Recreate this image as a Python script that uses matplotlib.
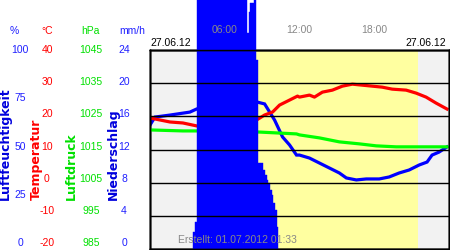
import numpy as np
import matplotlib
matplotlib.use('Agg')
import matplotlib.pyplot as plt
import matplotlib.transforms as mtransforms

plt.rcParams['font.family'] = ['Liberation Sans', 'DejaVu Sans']

# humidity (%), hours since midnight
hum_t = [0.0, 0.4, 1.6, 3.2, 3.76, 8.56, 9.2, 10.0, 10.64, 11.2, 11.76, 12.0, 12.8,
         13.6, 14.4, 15.2, 15.76, 16.56, 17.36, 18.4, 19.2, 20.0, 20.8, 21.6, 22.24,
         22.64, 23.2, 23.84]
hum_v = [62.3, 66.3, 67.3, 68.8, 70.4, 73.9, 72.9, 64.8, 56.3, 52.3, 47.2, 47.2, 45.7,
         43.2, 40.7, 38.2, 35.7, 34.7, 35.2, 35.2, 36.2, 38.2, 39.7, 42.2, 43.7,
         47.2, 48.7, 51.3]

# temperature (°C)
temp_t = [0.0, 0.8, 1.6, 2.64, 3.76, 8.56, 9.2, 9.84, 10.4, 11.2, 11.84, 12.0, 12.8,
          13.2, 13.84, 14.64, 15.44, 16.24, 17.04, 17.84, 18.64, 19.44, 20.56, 21.36,
          22.16, 22.96, 23.84]
temp_v = [19.5, 18.9, 18.3, 18.0, 17.1, 18.9, 20.4, 21.3, 23.4, 24.9, 26.1, 25.8, 26.4,
          25.8, 27.3, 27.9, 29.1, 29.7, 29.4, 29.1, 28.8, 28.2, 27.9, 27.0,
          25.8, 24.0, 22.2]

# pressure (hPa)
pres_t = [0.0, 2.64, 3.76, 8.56, 10.16, 11.76, 12.0, 13.6, 15.2, 16.8, 18.16, 19.76,
          21.36, 23.84]
pres_v = [1020.9, 1020.6, 1020.6, 1020.3, 1020.0, 1019.7, 1019.4, 1018.5, 1017.3,
          1016.7, 1016.1, 1015.8, 1015.8, 1015.8]

# rain (mm/h), step edges in hours
rain_edges = [3.44, 3.64, 3.80, 7.82, 7.94, 8.06, 8.38, 8.52, 8.64, 8.80, 9.04, 9.20,
              9.36, 9.44, 9.60, 9.76, 9.88, 10.00, 10.16, 10.24]
rain_v = [2.0, 3.3, 40, 26.0, 28.6, 29.7, 40, 22.8, 10.4, 10.4, 9.5, 8.9,
          8.3, 7.9, 7.1, 6.5, 5.5, 4.7, 2.7]

sun_up, sun_down = 8.48, 21.52

hum_ticks = [0, 25, 50, 75, 100]
temp_ticks = [-20, -10, 0, 10, 20, 30, 40]
pres_ticks = [985, 995, 1005, 1015, 1025, 1035, 1045]
rain_ticks = [0, 4, 8, 12, 16, 20, 24]
time_ticks = [6, 12, 18]
time_labels = ['06:00', '12:00', '18:00']

W, H = 450, 250
fig = plt.figure(figsize=(4.5, 2.5), dpi=100)
ax = fig.add_axes([150 / W, 1 / H, 299 / W, 199 / H])
ax.set_facecolor('#f2f2f2')
ax.axvspan(sun_up, sun_down, color='#ffffa0', lw=0)
ax.set_xlim(0, 24)
ax.set_ylim(0, 100)
ax.plot(hum_t, hum_v, color='#0000ff', lw=2.3, solid_joinstyle='miter')

ax_t = ax.twinx()
ax_t.set_ylim(-20, 40)
ax_t.plot(temp_t, temp_v, color='#ff0000', lw=2.3)

ax_p = ax.twinx()
ax_p.set_ylim(985, 1045)
ax_p.plot(pres_t, pres_v, color='#00ff00', lw=2.3)

ax_r = ax.twinx()
ax_r.set_ylim(0, 24)
ax_r.bar(rain_edges[:-1], rain_v, width=np.diff(rain_edges), align='edge',
         color='#0000ff', edgecolor='#0000ff', lw=0.3, clip_on=False)
ax_r.set_axisbelow(False)
ax_r.set_yticks(rain_ticks)
ax_r.set_xticks(time_ticks)
ax_r.grid(axis='y', color='black', lw=1)
ax_r.grid(axis='x', color='#808080', lw=1)

for a in (ax, ax_t, ax_p, ax_r):
    a.tick_params(left=False, right=False, bottom=False, top=False,
                  labelleft=False, labelright=False, labelbottom=False)
    for s in a.spines.values():
        s.set_color('black')
        s.set_linewidth(1)

# labels above the plot
top = mtransforms.blended_transform_factory(ax_r.transData, fig.transFigure)
for t, lab in zip(time_ticks, time_labels):
    ax_r.text(t, 1 - 30 / H, lab, transform=top, ha='center', va='center',
              color='#888888', fontsize=7.5)
fig.text(150 / W, 1 - 43 / H, '27.06.12', ha='left', va='center', fontsize=7.5)
fig.text(446 / W, 1 - 43 / H, '27.06.12', ha='right', va='center', fontsize=7.5)
fig.text(237 / W, 1 - 240 / H, 'Erstellt: 01.07.2012 01:33', ha='center', va='center',
         color='#888888', fontsize=7.5)

# left scales
scales = [
    (ax, hum_ticks, 20, '#2020ff', '%', 14),
    (ax_t, temp_ticks, 47, '#ff0000', '°C', 47),
    (ax_p, pres_ticks, 91, '#00e000', 'hPa', 90),
    (ax_r, rain_ticks, 124, '#2020ff', 'mm/h', 132),
]
for a, ticks, xc, col, unit, ux in scales:
    lo, hi = a.get_ylim()
    for v in ticks:
        f = (v - lo) / (hi - lo)
        off = mtransforms.ScaledTranslation(0, 6 * (1 - f) / 100, fig.dpi_scale_trans)
        tr = mtransforms.blended_transform_factory(fig.transFigure, a.transData) + off
        fig.text(xc / W, v, str(v), transform=tr, ha='center', va='center',
                 color=col, fontsize=7.5)
    fig.text(ux / W, 1 - 31 / H, unit, ha='center', va='center', color=col, fontsize=7.5)

titles = [('Luftfeuchtigkeit', 5, '#0000dd'), ('Temperatur', 36, '#ff0000'),
          ('Luftdruck', 71, '#00e000'), ('Niederschlag', 113, '#0000dd')]
for txt, x, col in titles:
    fig.text(x / W, 1 - 200 / H, txt, rotation=90, ha='center', va='bottom',
             color=col, fontsize=9, fontweight='bold', family='DejaVu Sans')

fig.savefig('out.png', dpi=100)
